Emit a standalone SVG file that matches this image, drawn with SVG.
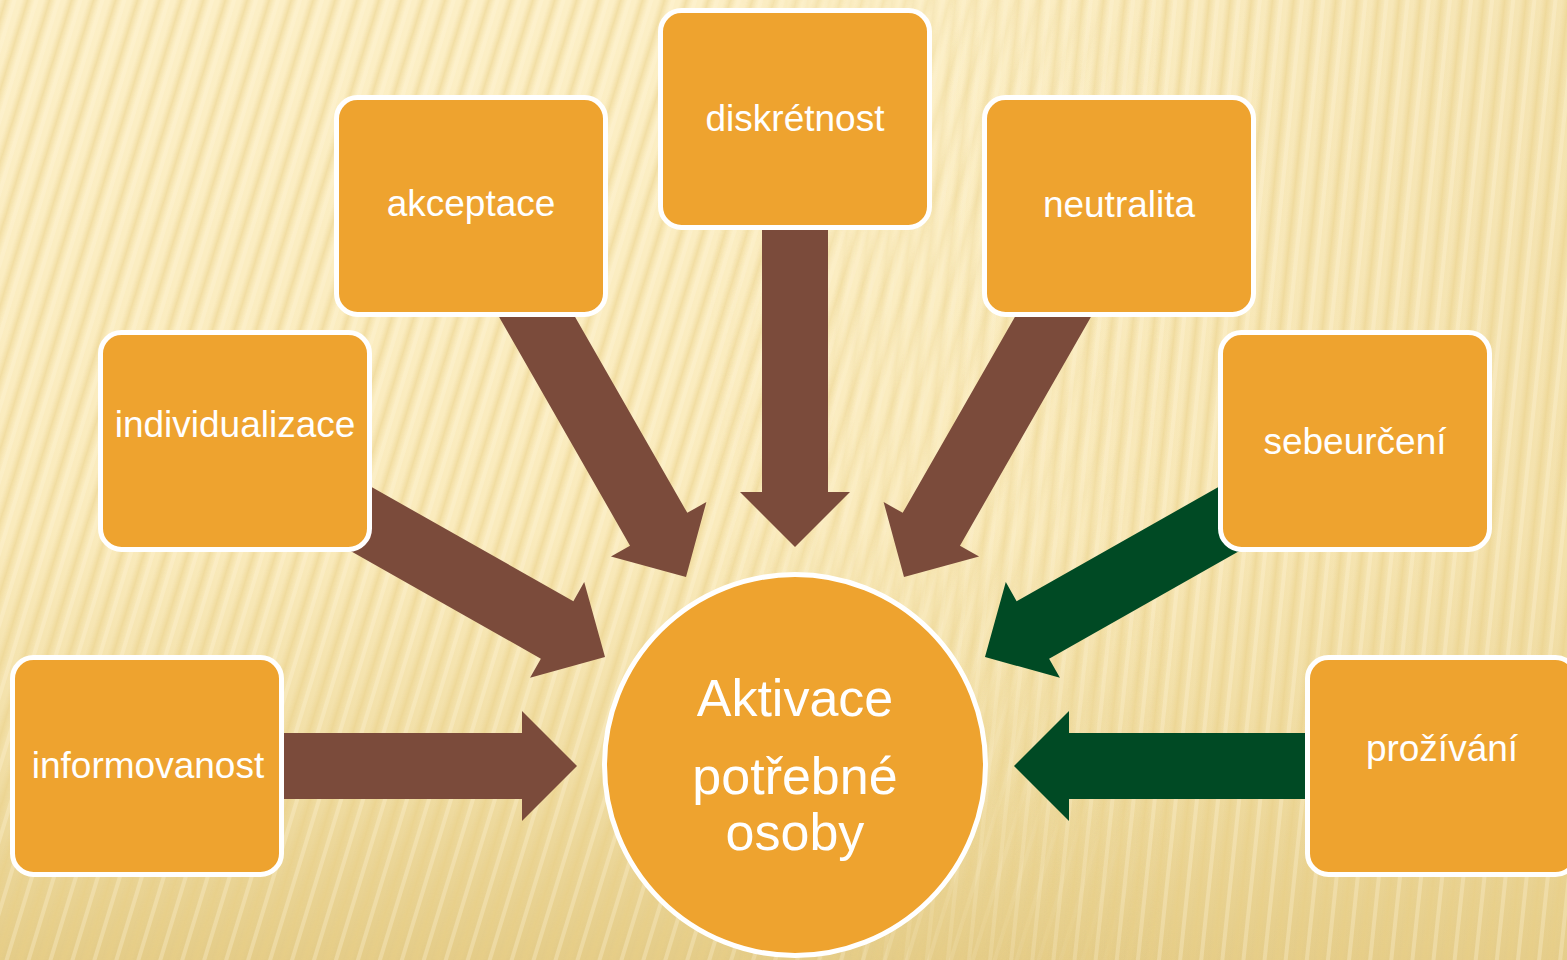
<svg xmlns="http://www.w3.org/2000/svg" xmlns:xlink="http://www.w3.org/1999/xlink" width="1567" height="960" viewBox="0 0 1567 960">
  <defs>
    <style>
      .box { fill: #EEA32F; stroke: #FFFFFF; stroke-width: 5; }
      .lbl { font-family: "Liberation Sans", Arial, sans-serif; font-size: 37px; fill: #FFFFFF; text-anchor: middle; }
      .big { font-family: "Liberation Sans", Arial, sans-serif; font-size: 52px; fill: #FFFFFF; text-anchor: middle; }
      .brown { fill: #7B4B3B; }
      .green { fill: #004A24; }
    </style>
    <linearGradient id="bgGrad" x1="0" y1="0" x2="0" y2="1">
      <stop offset="0" stop-color="#FCEFC6"/>
      <stop offset="0.55" stop-color="#FAEBBD"/>
      <stop offset="0.8" stop-color="#F1DEA5"/>
      <stop offset="1" stop-color="#E4CC88"/>
    </linearGradient>
    <linearGradient id="rightShade" x1="0" y1="0" x2="1" y2="0">
      <stop offset="0" stop-color="#E8D08E" stop-opacity="0"/>
      <stop offset="0.6" stop-color="#E8D08E" stop-opacity="0"/>
      <stop offset="1" stop-color="#E8D08E" stop-opacity="0.35"/>
    </linearGradient>
    <linearGradient id="stripeGrad" x1="0" y1="0" x2="1" y2="0">
      <stop offset="0" stop-color="#E9CF86" stop-opacity="0"/>
      <stop offset="0.5" stop-color="#E9CF86" stop-opacity="0.5"/>
      <stop offset="1" stop-color="#E9CF86" stop-opacity="0"/>
    </linearGradient>
    <pattern id="stripesL" patternUnits="userSpaceOnUse" width="21" height="40" patternTransform="rotate(17)">
      <rect x="0" y="0" width="11" height="40" fill="url(#stripeGrad)"/>
      <rect x="12" y="0" width="4" height="40" fill="#FFF8DC" opacity="0.3"/>
    </pattern>
    <pattern id="stripesR" patternUnits="userSpaceOnUse" width="21" height="40" patternTransform="rotate(6)">
      <rect x="0" y="0" width="11" height="40" fill="url(#stripeGrad)"/>
      <rect x="12" y="0" width="4" height="40" fill="#FFF8DC" opacity="0.3"/>
    </pattern>
    <linearGradient id="maskGradL" x1="0" y1="0" x2="1" y2="0">
      <stop offset="0" stop-color="#FFFFFF"/>
      <stop offset="0.45" stop-color="#FFFFFF"/>
      <stop offset="0.75" stop-color="#000000"/>
    </linearGradient>
    <linearGradient id="maskGradR" x1="0" y1="0" x2="1" y2="0">
      <stop offset="0.45" stop-color="#000000"/>
      <stop offset="0.75" stop-color="#FFFFFF"/>
      <stop offset="1" stop-color="#FFFFFF"/>
    </linearGradient>
    <mask id="maskL" maskUnits="userSpaceOnUse" x="0" y="0" width="1567" height="960">
      <rect x="0" y="0" width="1567" height="960" fill="url(#maskGradL)"/>
    </mask>
    <mask id="maskR" maskUnits="userSpaceOnUse" x="0" y="0" width="1567" height="960">
      <rect x="0" y="0" width="1567" height="960" fill="url(#maskGradR)"/>
    </mask>
    <path id="arrow" d="M0,0 L-55,-55 L-55,-33 L-330,-33 L-330,33 L-55,33 L-55,55 Z"/>
  </defs>

  <g id="background">
    <rect x="0" y="0" width="1567" height="960" fill="url(#bgGrad)"/>
    <rect x="0" y="0" width="1567" height="960" fill="url(#rightShade)"/>
    <rect x="0" y="0" width="1567" height="960" fill="url(#stripesL)" mask="url(#maskL)"/>
    <rect x="0" y="0" width="1567" height="960" fill="url(#stripesR)" mask="url(#maskR)"/>
  </g>

  <g id="connectors">
    <use xlink:href="#arrow" href="#arrow" class="brown" transform="translate(577,766)"/>
    <use xlink:href="#arrow" href="#arrow" class="green" transform="translate(1014,766) rotate(180)"/>
    <use xlink:href="#arrow" href="#arrow" class="brown" transform="translate(795,547) rotate(90)"/>
    <use xlink:href="#arrow" href="#arrow" class="brown" transform="translate(686,577) rotate(60.2)"/>
    <use xlink:href="#arrow" href="#arrow" class="brown" transform="translate(904,577) rotate(119.8)"/>
    <use xlink:href="#arrow" href="#arrow" class="brown" transform="translate(605,657) rotate(29.5)"/>
    <use xlink:href="#arrow" href="#arrow" class="green" transform="translate(985,657) rotate(150.5)"/>
  </g>

  <g id="node-diskretnost">
    <rect class="box" x="660.5" y="10.5" width="269" height="217" rx="21"/>
    <text class="lbl" x="795" y="131">diskrétnost</text>
  </g>
  <g id="node-akceptace">
    <rect class="box" x="336.5" y="97.5" width="269" height="217" rx="21"/>
    <text class="lbl" x="471" y="216">akceptace</text>
  </g>
  <g id="node-neutralita">
    <rect class="box" x="984.5" y="97.5" width="269" height="217" rx="21"/>
    <text class="lbl" x="1119" y="217">neutralita</text>
  </g>
  <g id="node-individualizace">
    <rect class="box" x="100.5" y="332.5" width="269" height="217" rx="21"/>
    <text class="lbl" x="235" y="437">individualizace</text>
  </g>
  <g id="node-sebeurceni">
    <rect class="box" x="1220.5" y="332.5" width="269" height="217" rx="21"/>
    <text class="lbl" x="1355" y="454">sebeurčení</text>
  </g>
  <g id="node-informovanost">
    <rect class="box" x="12.5" y="657.5" width="269" height="217" rx="21"/>
    <text class="lbl" x="148" y="778">informovanost</text>
  </g>
  <g id="node-prozivani">
    <rect class="box" x="1307.5" y="657.5" width="269" height="217" rx="21"/>
    <text class="lbl" x="1442" y="761">prožívání</text>
  </g>

  <g id="node-center">
    <circle cx="795" cy="765" r="190.5" fill="#EEA32F" stroke="#FFFFFF" stroke-width="5"/>
    <text class="big" x="795" y="716">Aktivace</text>
    <text class="big" x="795" y="794">potřebné</text>
    <text class="big" x="795" y="850">osoby</text>
  </g>
</svg>
